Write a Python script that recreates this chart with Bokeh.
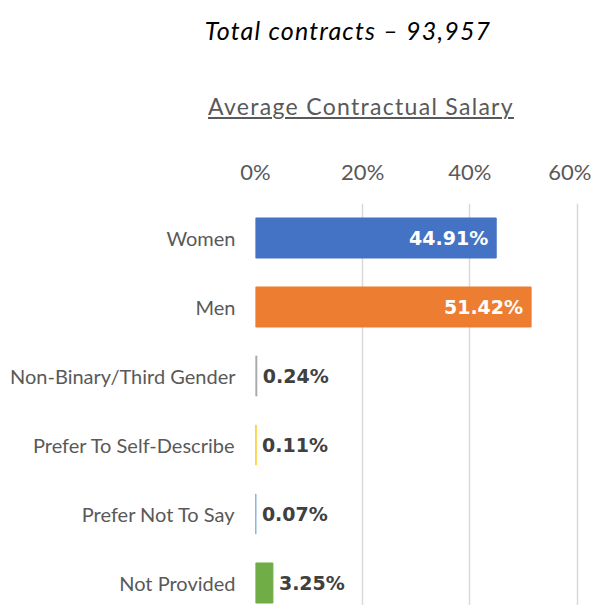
from bokeh.plotting import figure
from bokeh.models import Range1d, FixedTicker, ColumnDataSource, Div
from bokeh.layouts import column
from bokeh.embed import file_html
from bokeh.resources import INLINE
from bokeh.core.properties import value

# ---- data ----
categories = ["Women", "Men", "Non-Binary/Third Gender", "Prefer To Self-Describe",
              "Prefer Not To Say", "Not Provided"]
shares = [44.91, 51.42, 0.24, 0.11, 0.07, 3.25]
bar_colors = ["#4472C4", "#ED7D31", "#A5A5A5", "#FFC000", "#5B9BD5", "#70AD47"]
x_ticks = [0, 20, 40, 60]
x_tick_labels = ["0%", "20%", "40%", "60%"]
title_text = "Total contracts \u2013 93,957"
subtitle_text = "Average Contractual Salary"

FONT = "Lato"
VFONT = "DejaVu Sans"
pos = list(range(len(categories)))
labels = [f"{v:.2f}%" for v in shares]

src = ColumnDataSource(dict(y=pos, v=shares, color=bar_colors))
inside = [i for i, v in enumerate(shares) if v > 10]
outside = [i for i, v in enumerate(shares) if v <= 10]
src_in = ColumnDataSource(dict(y=[pos[i] for i in inside], v=[shares[i] for i in inside],
                               t=[labels[i] for i in inside]))
src_out = ColumnDataSource(dict(y=[pos[i] for i in outside], v=[shares[i] for i in outside],
                                t=[labels[i] for i in outside]))

DIV_H = 140
FIG_H = 455

p = figure(width=591, height=FIG_H,
           x_range=Range1d(0, 62.69), y_range=Range1d(5.326, -0.5),
           x_axis_location="above", output_backend="svg", toolbar_location=None,
           min_border_left=255, min_border_right=0, min_border_top=53, min_border_bottom=0)
p.outline_line_color = None
p.background_fill_color = "white"

p.hbar(y="y", left=0, right="v", height=0.58, color="color", source=src)

p.text(x="v", y="y", text="t", source=src_in, text_align="right", text_baseline="middle",
       x_offset=-8, text_color="white", text_font=value(VFONT), text_font_style="bold",
       text_font_size="19px")
p.text(x="v", y="y", text="t", source=src_out, text_align="left", text_baseline="middle",
       x_offset=6, text_color="#404040", text_font=value(VFONT), text_font_style="bold",
       text_font_size="19px")

xa = p.xaxis[0]
xa.ticker = FixedTicker(ticks=x_ticks)
xa.major_label_overrides = {t: l for t, l in zip(x_ticks, x_tick_labels)}
xa.axis_line_color = None
xa.major_tick_line_color = None
xa.minor_tick_line_color = None
xa.major_tick_out = 0
xa.major_tick_in = 0
xa.major_label_text_font = FONT
xa.major_label_text_font_size = "22px"
xa.major_label_text_color = "#595959"
xa.major_label_standoff = 19

ya = p.yaxis[0]
ya.ticker = FixedTicker(ticks=pos)
ya.major_label_overrides = {i: c for i, c in zip(pos, categories)}
ya.axis_line_color = None
ya.major_tick_line_color = None
ya.minor_tick_line_color = None
ya.major_tick_out = 0
ya.major_tick_in = 0
ya.major_label_text_font = FONT
ya.major_label_text_font_size = "20px"
ya.major_label_text_color = "#595959"
ya.major_label_standoff = 20

p.xgrid.grid_line_color = "#d9d9d9"
p.xgrid.grid_line_width = 1.5
p.ygrid.grid_line_color = None

html = f"""
<div style="position:relative;width:591px;height:{DIV_H}px;font-family:'{FONT}';">
  <div style="position:absolute;top:10px;left:143px;width:400px;text-align:center;
              font-style:italic;font-size:25px;line-height:30px;color:#000;white-space:nowrap;
              letter-spacing:1.2px;">{title_text}</div>
  <div style="position:absolute;top:88px;left:156px;width:400px;text-align:center;
              font-size:23px;line-height:26px;color:#595959;white-space:nowrap;letter-spacing:1.3px;
              text-decoration:underline;text-underline-offset:2px;text-decoration-thickness:1.5px;">{subtitle_text}</div>
</div>
"""
div = Div(text=html, width=591, height=DIV_H)

layout = column(div, p, spacing=0)
open("out.html", "w").write(file_html(layout, INLINE))
